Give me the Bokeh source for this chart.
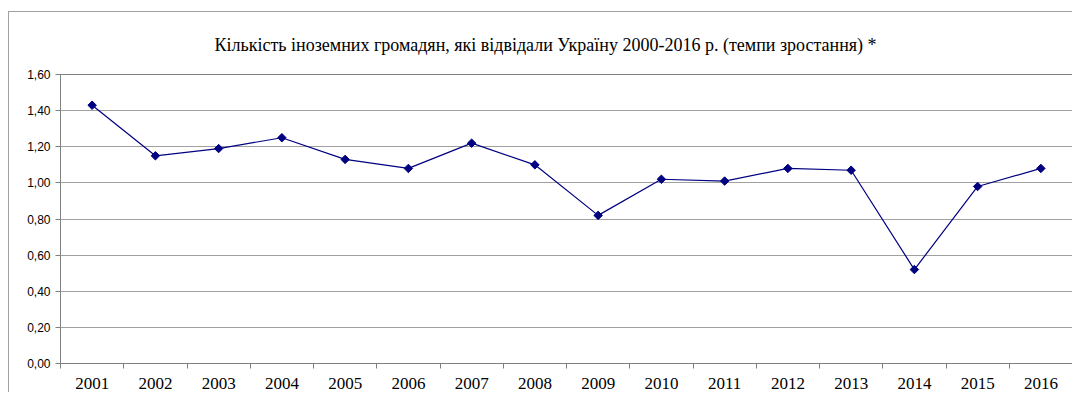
import math
from bokeh.plotting import figure
from bokeh.models import ColumnDataSource, FixedTicker, CustomJSTickFormatter, Range1d
from bokeh.embed import file_html
from bokeh.resources import INLINE

title_text = "Кількість іноземних громадян, які відвідали Україну 2000-2016 р. (темпи зростання) *"
years = [2001, 2002, 2003, 2004, 2005, 2006, 2007, 2008,
         2009, 2010, 2011, 2012, 2013, 2014, 2015, 2016]
growth_rate = [1.43, 1.15, 1.19, 1.25, 1.13, 1.08, 1.22, 1.10,
               0.82, 1.02, 1.01, 1.08, 1.07, 0.52, 0.98, 1.08]
y_ticks = [0.0, 0.2, 0.4, 0.6, 0.8, 1.0, 1.2, 1.4, 1.6]

src = ColumnDataSource(dict(year=years, rate=growth_rate))

p = figure(width=1064, height=381, output_backend="svg", toolbar_location=None,
           title=title_text,
           x_range=Range1d(years[0] - 0.5, years[-1] + 0.5),
           y_range=Range1d(y_ticks[0], y_ticks[-1]),
           min_border_left=51, min_border_right=1, min_border_top=62, min_border_bottom=30,
           background_fill_color="white", border_fill_color="white",
           outline_line_color="#808080",
           styles={"margin-top": "11px", "margin-left": "8px",
                   "border-left": "1px solid #a0a0a0",
                   "border-top": "1px solid #a0a0a0"})

p.title.align = "left"
p.title.offset = 154
p.title.text_font = "Liberation Serif"
p.title.text_font_size = "18px"
p.title.text_font_style = "normal"
p.title.text_color = "black"
if "standoff" in p.title.properties():
    p.title.standoff = 40

p.line("year", "rate", source=src, line_color="#000080", line_width=1.2)
p.scatter("year", "rate", source=src, marker="square", angle=math.pi / 4, size=6,
          fill_color="#000080", line_color="#000080")

# x axis
xa = p.xaxis[0]
boundaries = [y - 0.5 for y in years] + [years[-1] + 0.5]
xa.ticker = FixedTicker(ticks=years, minor_ticks=boundaries)
xa.major_label_overrides = {y: str(y) for y in years}
xa.major_tick_out = 0
xa.major_tick_in = 0
xa.minor_tick_out = 5
xa.minor_tick_in = 0
xa.minor_tick_line_color = "#808080"
xa.axis_line_color = "#808080"
xa.major_label_standoff = 9
xa.major_label_text_font = "Liberation Serif"
xa.major_label_text_font_size = "17px"
xa.major_label_text_color = "black"

# y axis
ya = p.yaxis[0]
ya.ticker = FixedTicker(ticks=y_ticks)
ya.formatter = CustomJSTickFormatter(code="return tick.toFixed(2).replace('.', ',');")
ya.major_tick_out = 5
ya.major_tick_in = 0
ya.minor_tick_out = 0
ya.minor_tick_in = 0
ya.major_tick_line_color = "#808080"
ya.axis_line_color = "#808080"
ya.major_label_standoff = 5
ya.major_label_text_font = "Liberation Sans"
ya.major_label_text_font_size = "12px"
ya.major_label_text_color = "black"

p.xgrid.grid_line_color = None
p.ygrid.grid_line_color = "#a0a0a0"
p.ygrid.ticker = FixedTicker(ticks=y_ticks)

open("out.html", "w").write(file_html(p, INLINE))
